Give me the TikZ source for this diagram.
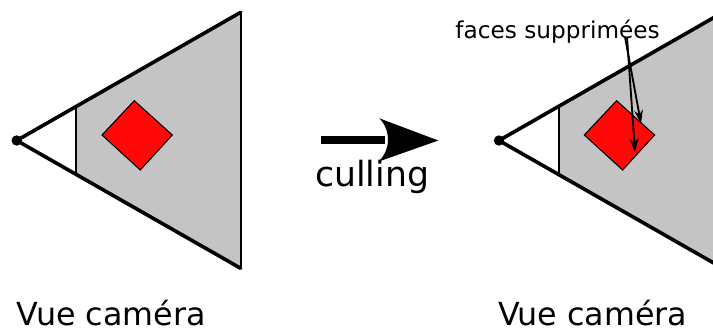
\documentclass[tikz,border=0pt]{standalone}
\usepackage{fontspec}
\setmainfont{DejaVu Sans}
\newfontfamily\labfont{DejaVu Sans}
\usetikzlibrary{calc,arrows.meta}
\definecolor{frustgray}{HTML}{C4C4C4}
\definecolor{facered}{HTML}{FF0808}
\tikzset{
  frustfill/.style={fill=frustgray},
  frustedge/.style={line width=2.7pt, line cap=round},
  nearplane/.style={line width=1.5pt},
  farplane/.style={line width=1.5pt},
  facebox/.style={fill=facered, draw=black, line width=0.8pt, line join=miter},
  camdot/.style={fill=black},
  bigtext/.style={anchor=base west, inner sep=0pt, font=\labfont\fontsize{23.8}{28}\selectfont},
  cultext/.style={anchor=base west, inner sep=0pt, font=\labfont\fontsize{26}{30}\selectfont},
  smalltext/.style={anchor=base west, inner sep=0pt, font=\labfont\fontsize{17.4}{20}\selectfont},
  pointer/.style={-{Stealth[length=10pt,width=6.5pt,inset=3pt]}, line width=1.4pt}
}
\begin{document}
\begin{tikzpicture}[x=0.75pt,y=-0.75pt]
\useasboundingbox (0,0) rectangle (713,331);
\begin{scope}
\clip (0,0) rectangle (713,331);
% ---- left frustum
\coordinate (lA) at (16.7,140.5);
\coordinate (lF1) at (240.7,12.3);
\coordinate (lF2) at (240.7,268.3);
\coordinate (lN1) at ($(lA)!0.2665!(lF1)$);
\coordinate (lN2) at ($(lA)!0.2665!(lF2)$);
\fill[frustfill] (lN1) -- (lF1) -- (lF2) -- (lN2) -- cycle;
\draw[farplane] (lF1) -- (lF2);
\draw[nearplane] (lN1) -- (lN2);
\draw[frustedge] (lF1) -- (lA) -- (lF2);
\draw[facebox] (102,135) -- (134.3,100.7) -- (172.3,135) -- (140.3,170) -- cycle;
\fill[camdot] (lA) circle[radius=3.9pt];
% ---- right frustum
\coordinate (rA) at (499,140.5);
\coordinate (rF1) at (723,12.3);
\coordinate (rF2) at (723,268.3);
\coordinate (rN1) at ($(rA)!0.2665!(rF1)$);
\coordinate (rN2) at ($(rA)!0.2665!(rF2)$);
\fill[frustfill] (rN1) -- (rF1) -- (rF2) -- (rN2) -- cycle;
\draw[farplane] (rF1) -- (rF2);
\draw[nearplane] (rN1) -- (rN2);
\draw[frustedge] (rF1) -- (rA) -- (rF2);
\draw[facebox] (584.3,135) -- (616.6,100.7) -- (654.6,135) -- (622.6,170) -- cycle;
\fill[camdot] (rA) circle[radius=3.9pt];
\end{scope}
% ---- big arrow
\coordinate (arrS) at (321,140.2);
\coordinate (arrE) at (438.3,140.5);
\fill (arrS) ++(0,-4.2) rectangle (385,144.4);
\fill (379.3,118.3) -- (arrE) -- (378.3,161.7) .. controls (391,150) and (391,130) .. (379.3,118.3) -- cycle;
% ---- texts
\node[cultext] (cul) at (315,187) {culling};
\node[bigtext] (lv) at (16.2,325) {Vue caméra};
\node[bigtext] (rv) at (497.8,325) {Vue caméra};
\node[smalltext] (faces) at (455.2,38.3) {faces supprimées};
% ---- pointers
\coordinate (fa1) at (625,37);
\coordinate (fa2) at (627,37);
\coordinate (tip1) at (641,123.5);
\coordinate (tip2) at (635,152);
\draw[pointer] (fa1) -- (tip1);
\draw[pointer] (fa2) -- (tip2);
\end{tikzpicture}
\end{document}
